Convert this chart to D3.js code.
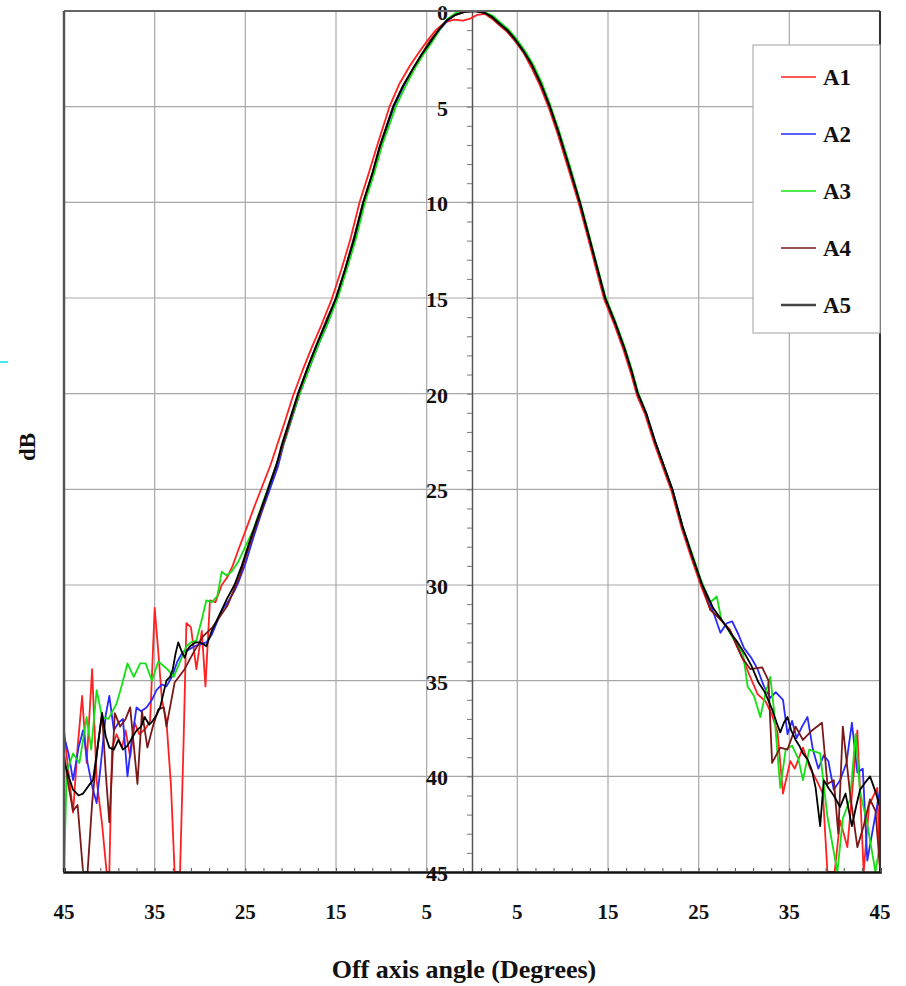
<!DOCTYPE html>
<html><head><meta charset="utf-8">
<script src="https://cdn.jsdelivr.net/npm/d3@7"></script>
<style>body{margin:0;background:#fff}svg{display:block}</style>
</head><body>
<svg id="c" width="906" height="986"></svg>
<script>
const seriesNames = ["A1","A2","A3","A4","A5"];
const seriesColors = ["#ff2020","#2a2aff","#14e014","#7a1818","#000000"];
const xTickValues = [-45,-35,-25,-15,-5,5,15,25,35,45];
const xTickLabels = ["45","35","25","15","5","5","15","25","35","45"];
const yTickValues = [0,5,10,15,20,25,30,35,40,45];
const yTickLabels = ["0","5","10","15","20","25","30","35","40","45"];

const a1 = [[-45,37.6],[-44.5,39.8],[-44,41.9],[-43.5,38.5],[-43,35.8],[-42.5,39.3],[-41.9,34.4],[-41.4,40.2],[-40.8,42.5],[-40.3,45],[-40,45],[-39.7,38.5],[-39.2,37.8],[-38.6,38.5],[-38.2,37.6],[-37.7,39.0],[-37.2,37.2],[-36.7,37.8],[-36,37.5],[-35.5,37.1],[-35,31.2],[-34.6,33.5],[-34.2,36.0],[-33.7,37.1],[-33.2,40.5],[-32.8,45],[-32.2,45],[-31.8,38],[-31.5,32.0],[-31.0,32.2],[-30.4,34.4],[-29.8,32.4],[-29.4,35.3],[-28.9,30.8],[-28.3,30.9],[-27.6,30.0],[-27,29.6],[-26.4,29.0],[-25.8,28.2],[-25.0,27.2],[-24.0,25.9],[-23.1,24.8],[-22.2,23.7],[-21.5,22.7],[-20.6,21.4],[-19.8,20.2],[-18.7,18.8],[-17.6,17.5],[-16.6,16.4],[-15.5,15.1],[-14.4,13.5],[-13.4,11.9],[-12.4,10.0],[-11.4,8.5],[-10.5,7.1],[-9.1,5.0],[-8.0,3.8],[-6.9,2.9],[-5.9,2.2],[-5.0,1.6],[-4.0,1.0],[-3.0,0.6],[-2.0,0.45],[-1.0,0.5],[-0.2,0.4],[0.6,0.2],[1.4,0.15],[2.2,0.4],[2.9,0.7],[3.9,1.1],[4.8,1.6],[5.7,2.2],[6.6,3.0],[7.5,3.9],[8.5,5.1],[9.5,6.5],[10.6,8.2],[11.8,10.1],[12.7,11.7],[13.7,13.5],[14.6,15.1],[15.7,16.4],[16.7,17.7],[17.5,18.9],[18.2,20.1],[19.1,21.1],[20.1,22.6],[22.0,25.1],[23.1,27.0],[24.2,28.6],[25.3,30.1],[26.3,31.3],[27.0,31.6],[27.6,31.9],[28.4,32.3],[29.2,33.2],[29.9,33.9],[30.5,34.6],[31.5,35.7],[32.4,36.1],[33.1,36.8],[33.7,37.7],[34.3,40.9],[35.1,39.2],[35.6,39.6],[36.5,38.5],[37.3,39.6],[38.0,40.2],[38.7,40.9],[39.2,45],[40.0,45],[40.6,42.3],[41.4,43.7],[41.9,41.0],[42.5,37.6],[43.2,45],[43.8,41.5],[44.3,41.0],[44.7,40.6],[45,45]];

const a2 = [[-45,37.9],[-44.5,38.8],[-44,40.2],[-43.4,38.5],[-42.9,37.6],[-42.4,39.3],[-41.9,40.5],[-41.4,41.4],[-40.9,39.2],[-40.4,36.8],[-40,35.8],[-39.5,37.6],[-39,37.2],[-38.5,37.0],[-38,40.0],[-37.5,38.0],[-37,36.4],[-36.5,36.6],[-35.9,36.4],[-35.3,36.0],[-34.8,35.5],[-34.2,35.2],[-33.7,35.3],[-33.1,34.8],[-32.5,34.0],[-31.9,33.5],[-31.3,33.4],[-30.6,33.2],[-30.0,33.1],[-29.3,33.0],[-28.7,32.6],[-28.0,31.8],[-27.4,31.2],[-26.8,30.8],[-26.2,30.3],[-25.8,29.9],[-25.0,28.9],[-24.1,27.5],[-23.2,26.2],[-22.3,25.0],[-21.4,23.8],[-20.8,22.7],[-19.8,21.2],[-19.0,20.0],[-17.9,18.6],[-16.9,17.4],[-15.9,16.3],[-14.9,15.0],[-13.9,13.5],[-12.9,11.9],[-11.9,10.0],[-10.9,8.5],[-10.1,7.1],[-8.6,5.0],[-7.5,3.9],[-6.4,3.0],[-5.5,2.3],[-4.6,1.7],[-3.6,1.0],[-2.7,0.5],[-1.7,0.15],[-0.7,0.0],[0.3,0.0],[1.3,0.05],[2.2,0.3],[2.9,0.6],[3.9,1.0],[4.8,1.5],[5.7,2.1],[6.6,2.8],[7.6,3.8],[8.6,5.0],[9.6,6.4],[10.7,8.1],[11.9,10.0],[12.8,11.6],[13.8,13.4],[14.7,15.0],[15.8,16.3],[16.8,17.6],[17.6,18.8],[18.3,20.0],[19.2,21.0],[20.2,22.5],[22.1,25.0],[23.2,26.9],[24.3,28.5],[25.4,30.0],[26.3,31.0],[26.9,31.8],[27.4,32.5],[28.1,32.0],[28.7,31.9],[29.4,32.6],[30.0,33.3],[30.8,33.8],[31.5,34.4],[32.2,35.3],[32.9,35.9],[33.5,35.6],[34.3,36.0],[34.8,37.8],[35.3,37.1],[35.8,38.0],[36.4,37.4],[37.0,36.9],[37.6,38.6],[38.2,39.6],[38.8,38.9],[39.3,39.2],[39.9,40.7],[40.6,40.2],[41.3,39.3],[41.9,37.2],[42.5,39.8],[43.1,39.6],[43.6,44.4],[44.2,42.8],[45,40.7]];

const a3 = [[-45,45],[-44.7,39.8],[-44,38.8],[-43.3,39.3],[-42.5,36.9],[-42,38.6],[-41.4,35.5],[-40.8,36.9],[-40.1,37.0],[-39.2,36.2],[-38.6,35.2],[-38,34.1],[-37.3,34.8],[-36.6,34.1],[-36,34.1],[-35.3,35.0],[-34.6,34.0],[-33.6,34.4],[-32.9,34.8],[-32.2,34.0],[-31.5,33.2],[-31.0,33.0],[-30.4,32.9],[-29.8,31.8],[-29.3,30.8],[-28.7,30.9],[-28.1,30.6],[-27.6,29.3],[-27.1,29.5],[-26.5,29.3],[-25.8,28.8],[-25.0,28.0],[-24.2,27.2],[-23.3,26.0],[-22.4,24.8],[-21.5,23.6],[-20.7,22.5],[-19.7,21.0],[-19.0,20.0],[-17.9,18.6],[-16.9,17.4],[-15.9,16.3],[-14.8,15.0],[-13.8,13.5],[-12.8,11.9],[-11.8,10.0],[-10.8,8.5],[-9.9,7.0],[-8.4,5.0],[-7.3,3.9],[-6.3,3.0],[-5.4,2.3],[-4.5,1.7],[-3.6,1.0],[-2.7,0.4],[-1.8,0.1],[-0.9,0.0],[0.3,0.0],[1.4,0.05],[2.3,0.25],[3.0,0.55],[4.0,0.95],[4.9,1.45],[5.8,2.05],[6.7,2.75],[7.7,3.75],[8.7,5.0],[9.7,6.4],[10.8,8.1],[11.9,9.9],[12.8,11.5],[13.8,13.3],[14.7,14.9],[15.8,16.2],[16.8,17.5],[17.6,18.7],[18.3,19.9],[19.2,21.0],[20.2,22.5],[22.1,25.0],[23.2,26.9],[24.3,28.4],[25.3,29.8],[26.3,30.9],[27.0,30.6],[27.5,31.8],[28.1,32.2],[28.8,32.8],[29.4,33.2],[29.9,33.6],[30.4,35.3],[31.1,35.8],[31.8,36.9],[32.4,35.6],[32.9,34.8],[33.3,36.5],[34.0,40.6],[34.6,38.6],[35.3,38.4],[36.0,39.1],[36.5,40.2],[37.2,38.6],[38.4,38.8],[39.2,42.1],[40.3,45],[40.9,42.2],[41.7,41.2],[42.3,37.8],[42.8,40.8],[43.6,42.5],[44.5,45],[45,43.5]];

const a4 = [[-45,38.8],[-44.5,40.5],[-44,41.8],[-43.5,41.5],[-42.9,45],[-42.4,45],[-41.9,41.4],[-41.3,38.5],[-40.8,36.7],[-40.4,39.8],[-40,42.4],[-39.4,36.7],[-38.8,37.4],[-38.2,37.0],[-37.7,36.4],[-36.9,40.4],[-36.4,36.6],[-35.8,38.5],[-35.2,37.4],[-34.6,36.5],[-34.0,36.4],[-33.7,37.4],[-32.8,35.1],[-31.7,34.4],[-30.8,33.6],[-29.7,32.7],[-28.6,32.2],[-27.0,31.1],[-25.6,29.5],[-24.8,28.3],[-23.9,27.0],[-23.0,25.8],[-22.3,24.7],[-21.2,23.2],[-20.1,21.5],[-19.2,20.1],[-18.1,18.6],[-17.1,17.4],[-16.1,16.2],[-15.0,15.0],[-14.0,13.5],[-13.0,11.8],[-12.0,10.0],[-11.0,8.5],[-10.1,7.0],[-8.7,5.0],[-7.6,3.9],[-6.5,3.0],[-5.6,2.3],[-4.7,1.6],[-3.7,1.0],[-2.8,0.5],[-1.8,0.2],[-0.8,0.05],[0.3,0.0],[1.4,0.1],[2.2,0.35],[2.9,0.65],[3.9,1.05],[4.8,1.55],[5.7,2.15],[6.6,2.85],[7.6,3.85],[8.6,5.05],[9.6,6.45],[10.7,8.15],[11.9,10.05],[12.8,11.65],[13.8,13.45],[14.7,15.05],[15.8,16.35],[16.8,17.65],[17.6,18.85],[18.3,20.05],[19.2,21.05],[20.2,22.55],[22.1,25.05],[23.2,26.95],[24.3,28.55],[25.4,30.05],[26.3,31.3],[27.4,31.8],[28.5,32.4],[29.8,33.8],[30.7,34.4],[32.0,34.3],[32.7,35.0],[33.1,39.3],[34.0,38.5],[34.8,38.6],[35.7,37.4],[36.5,38.1],[37.5,37.6],[38.6,37.2],[39.2,40.4],[39.9,40.2],[40.4,43.0],[40.9,37.4],[41.7,40.9],[42.5,43.7],[43.2,42.6],[43.9,41.2],[44.5,41.8],[45,44.8]];

const a5 = [[-45,39.2],[-44.5,40.0],[-44,40.7],[-43.4,41.0],[-42.9,40.9],[-42.3,40.5],[-41.8,40.2],[-41.3,38.5],[-40.8,36.7],[-40.4,37.9],[-40,38.5],[-39.5,38.6],[-39,38.1],[-38.5,38.6],[-38,38.4],[-37.5,38.0],[-37,37.6],[-36.5,37.4],[-36.1,36.9],[-35.6,37.3],[-35.2,37.1],[-34.8,36.8],[-34.4,36.4],[-34,35.6],[-33.7,35.0],[-33.3,34.8],[-33,34.4],[-32.7,33.6],[-32.4,33.0],[-32,33.5],[-31.7,33.8],[-31.4,33.4],[-31.1,33.2],[-30.5,33.0],[-30,33.0],[-29.6,33.1],[-29.3,33.2],[-28.7,32.4],[-28.1,31.8],[-27.5,31.2],[-27,30.7],[-26.2,30.0],[-25.4,29.0],[-24.3,27.4],[-23.4,26.2],[-22.5,25.0],[-21.6,23.8],[-21.0,22.7],[-20.0,21.2],[-19.2,20.0],[-18.1,18.6],[-17.1,17.4],[-16.1,16.3],[-15.0,15.0],[-14.0,13.5],[-13.0,11.9],[-12.0,10.0],[-11.0,8.5],[-10.2,7.1],[-8.7,5.0],[-7.6,3.9],[-6.5,3.0],[-5.6,2.3],[-4.7,1.7],[-3.7,1.0],[-2.8,0.5],[-1.8,0.2],[-0.8,0.05],[0.3,0.0],[1.4,0.1],[2.2,0.3],[2.9,0.6],[3.9,1.0],[4.8,1.5],[5.7,2.1],[6.6,2.8],[7.6,3.8],[8.6,5.0],[9.6,6.4],[10.7,8.1],[11.9,10.0],[12.8,11.6],[13.8,13.4],[14.7,15.0],[15.8,16.3],[16.8,17.6],[17.6,18.8],[18.3,20.0],[19.2,21.0],[20.2,22.5],[22.1,25.0],[23.2,26.9],[24.3,28.5],[25.4,30.0],[26.6,31.2],[27.5,31.8],[28.5,32.5],[29.3,33.0],[30.1,33.6],[30.8,34.2],[31.6,35.1],[32.3,35.6],[33.1,36.5],[33.6,37.2],[34,37.7],[34.4,37.2],[34.8,36.9],[35.2,37.6],[35.7,38.1],[36.1,38.4],[36.5,38.8],[37,39.1],[37.5,39.7],[37.9,40.6],[38.4,42.6],[38.8,40.2],[39.3,40.6],[39.9,41.0],[40.6,41.6],[41.2,40.9],[41.9,42.6],[42.4,41.5],[42.8,40.7],[43.4,40.3],[43.9,40.0],[44.5,40.8],[45,41.6]];

const allSeries = [a1,a2,a3,a4,a5];

const svg = d3.select("#c");
const L=64, R=880, T=11, B=872;
const x = d3.scaleLinear().domain([-45,45]).range([L,R]);
const y = d3.scaleLinear().domain([0,45]).range([T,B]);
const serif = "'Liberation Serif','Times New Roman',serif";

svg.append("defs").append("clipPath").attr("id","clip")
  .append("rect").attr("x",L).attr("y",T).attr("width",R-L).attr("height",B-T);

// grid
const g = svg.append("g");
g.selectAll("line.h").data(yTickValues.filter(v=>v>0&&v<45)).join("line")
  .attr("x1",L).attr("x2",R).attr("y1",d=>y(d)).attr("y2",d=>y(d))
  .attr("stroke","#a8a8a8").attr("stroke-width",1.2);
g.selectAll("line.v").data(xTickValues.filter(v=>Math.abs(v)<45)).join("line")
  .attr("y1",T).attr("y2",B).attr("x1",d=>x(d)).attr("x2",d=>x(d))
  .attr("stroke","#a8a8a8").attr("stroke-width",1.2);

// center axis with minor ticks
const yAxis = d3.axisLeft(y).tickValues(d3.range(0,46,1)).tickSize(5).tickFormat("");
const ya = svg.append("g").attr("transform",`translate(${x(0)},0)`).call(yAxis);
ya.select(".domain").attr("stroke","#555").attr("stroke-width",1.5);
ya.selectAll(".tick line").attr("stroke","#777");

// y labels
svg.append("g").selectAll("text").data(yTickValues).join("text")
  .attr("x",448).attr("y",d=>y(d)+4).attr("dominant-baseline","middle")
  .attr("text-anchor","end").attr("font-family",serif).attr("font-weight","bold")
  .attr("font-size",22).attr("fill","#111").text((d,i)=>yTickLabels[i]);

// series
const line = d3.line().x(d=>x(d[0])).y(d=>y(Math.min(d[1],45)));
const sg = svg.append("g").attr("clip-path","url(#clip)");
allSeries.forEach((s,i)=>{
  sg.append("path").datum(s).attr("d",line).attr("fill","none")
    .attr("stroke",seriesColors[i]).attr("stroke-width",1.8).attr("stroke-linejoin","round");
});

// frame
svg.append("line").attr("x1",L).attr("x2",R).attr("y1",T).attr("y2",T).attr("stroke","#666").attr("stroke-width",2);
svg.append("line").attr("x1",L).attr("x2",L).attr("y1",T).attr("y2",B).attr("stroke","#555").attr("stroke-width",2.5);
svg.append("line").attr("x1",R).attr("x2",R).attr("y1",T).attr("y2",B).attr("stroke","#333").attr("stroke-width",2);

// bottom axis
const xAxis = d3.axisTop(x).tickValues(d3.range(-45,46,2)).tickSize(4).tickFormat("");
const xa = svg.append("g").attr("transform",`translate(0,${B})`).call(xAxis);
xa.select(".domain").attr("stroke","#111").attr("stroke-width",2.5);
xa.selectAll(".tick line").attr("stroke","#555");

svg.append("g").selectAll("text").data(xTickValues).join("text")
  .attr("x",d=>x(d)).attr("y",919).attr("text-anchor","middle")
  .attr("font-family",serif).attr("font-weight","bold").attr("font-size",21)
  .attr("fill","#111").text((d,i)=>xTickLabels[i]);

// titles
svg.append("text").attr("x",464).attr("y",978).attr("text-anchor","middle")
  .attr("font-family",serif).attr("font-weight","bold").attr("font-size",26)
  .attr("fill","#111").text("Off axis angle (Degrees)");
svg.append("text").attr("transform","translate(35,447) rotate(-90)").attr("text-anchor","middle")
  .attr("font-family",serif).attr("font-weight","bold").attr("font-size",23)
  .attr("fill","#111").text("dB");

// stray cyan mark
svg.append("line").attr("x1",0).attr("x2",8).attr("y1",362).attr("y2",362).attr("stroke","#00e0f0").attr("stroke-width",1.5);

// legend
const lg = svg.append("g");
lg.append("rect").attr("x",753).attr("y",45).attr("width",127).attr("height",288)
  .attr("fill","#fff").attr("stroke","#b0b0b0").attr("stroke-width",1.2);
const legY = d3.scalePoint().domain(seriesNames).range([77,305]);
seriesNames.forEach((n,i)=>{
  lg.append("line").attr("x1",781).attr("x2",816).attr("y1",legY(n)).attr("y2",legY(n))
    .attr("stroke",i===4?"#444":seriesColors[i]).attr("stroke-width",i===4?2.5:1.6);
  lg.append("text").attr("x",823).attr("y",legY(n)+8).attr("font-family",serif)
    .attr("font-weight","bold").attr("font-size",23).attr("fill","#111").text(n);
});
</script>
</body></html>
